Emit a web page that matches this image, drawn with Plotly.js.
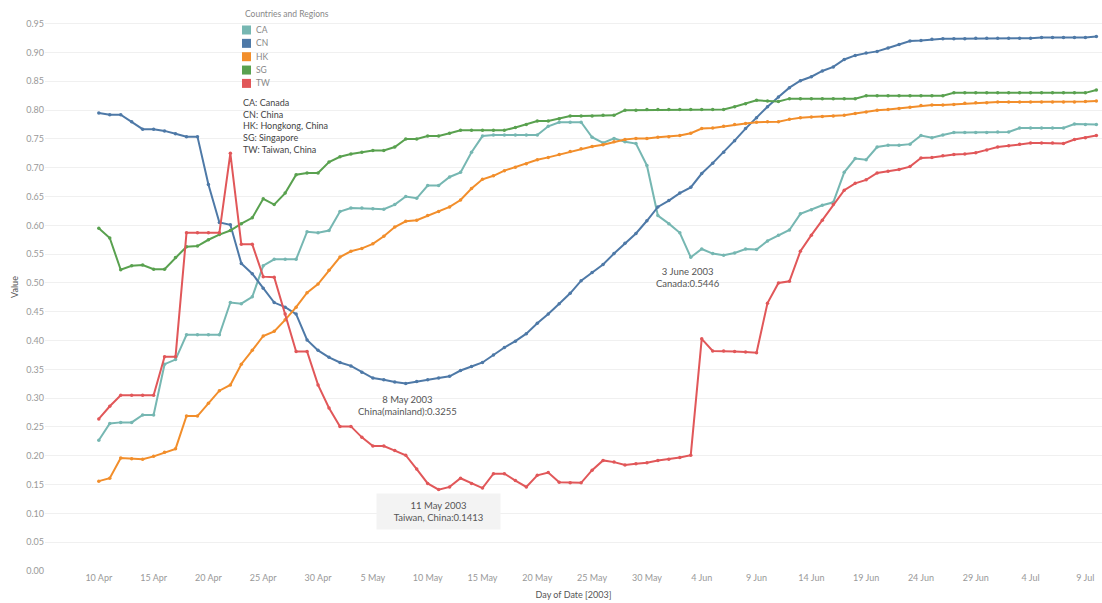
<!DOCTYPE html>
<html>
<head>
<meta charset="utf-8">
<script src="https://cdn.plot.ly/plotly-3.0.1.min.js"></script>
<style>
html, body { margin: 0; padding: 0; background: #ffffff; }
#chart { width: 1102px; height: 603px; }
</style>
</head>
<body>
<div id="chart"></div>
<script>
// ---------------- DATA ----------------
const startDate = '2003-04-10';
const seriesCodes = ['CA', 'CN', 'HK', 'SG', 'TW'];
const seriesNames = ['Canada', 'China', 'Hongkong, China', 'Singapore', 'Taiwan, China'];

const CA = [0.227,0.256,0.258,0.258,0.271,0.271,0.359,0.367,0.410,0.410,
            0.410,0.410,0.466,0.464,0.476,0.530,0.541,0.541,0.541,0.589,
            0.587,0.591,0.624,0.630,0.630,0.629,0.628,0.636,0.650,0.647,
            0.669,0.669,0.684,0.692,0.727,0.755,0.757,0.757,0.757,0.757,
            0.757,0.772,0.779,0.779,0.779,0.753,0.743,0.751,0.745,0.742,
            0.704,0.617,0.603,0.587,0.5446,0.559,0.551,0.548,0.552,0.559,
            0.558,0.573,0.583,0.592,0.620,0.627,0.635,0.640,0.692,0.716,
            0.714,0.736,0.739,0.739,0.741,0.756,0.752,0.757,0.761,0.761,
            0.761,0.761,0.762,0.762,0.769,0.769,0.769,0.769,0.769,0.776,
            0.775,0.775];

const CN = [0.795,0.792,0.792,0.780,0.767,0.767,0.764,0.759,0.754,0.754,
            0.671,0.605,0.601,0.534,0.516,0.491,0.466,0.458,0.446,0.401,
            0.383,0.371,0.362,0.356,0.345,0.335,0.332,0.328,0.3255,0.329,
            0.332,0.335,0.338,0.348,0.355,0.362,0.375,0.388,0.399,0.412,
            0.430,0.446,0.464,0.482,0.504,0.518,0.532,0.551,0.569,0.586,
            0.608,0.632,0.643,0.656,0.666,0.690,0.708,0.727,0.747,0.768,
            0.787,0.806,0.823,0.839,0.851,0.858,0.868,0.875,0.888,0.895,
            0.899,0.902,0.908,0.914,0.920,0.921,0.923,0.924,0.924,0.924,
            0.925,0.925,0.925,0.925,0.925,0.925,0.926,0.926,0.926,0.926,
            0.926,0.928];

const HK = [0.156,0.161,0.196,0.195,0.194,0.199,0.206,0.212,0.269,0.269,
            0.291,0.313,0.323,0.359,0.383,0.408,0.416,0.436,0.458,0.483,
            0.498,0.522,0.545,0.555,0.560,0.568,0.581,0.597,0.607,0.609,
            0.617,0.624,0.632,0.644,0.664,0.680,0.686,0.695,0.701,0.707,
            0.714,0.718,0.723,0.728,0.733,0.737,0.740,0.745,0.749,0.751,
            0.751,0.753,0.754,0.756,0.760,0.768,0.769,0.772,0.775,0.777,
            0.779,0.780,0.780,0.784,0.787,0.788,0.789,0.790,0.791,0.794,
            0.797,0.800,0.801,0.803,0.805,0.808,0.809,0.809,0.810,0.812,
            0.813,0.813,0.814,0.814,0.814,0.814,0.814,0.814,0.814,0.814,
            0.815,0.816];

const SG = [0.595,0.578,0.523,0.530,0.531,0.524,0.524,0.544,0.563,0.564,
            0.575,0.584,0.591,0.603,0.613,0.646,0.636,0.656,0.688,0.691,
            0.691,0.710,0.719,0.724,0.727,0.730,0.730,0.736,0.750,0.750,
            0.755,0.755,0.760,0.765,0.765,0.765,0.765,0.765,0.770,0.775,
            0.781,0.781,0.785,0.790,0.790,0.790,0.791,0.791,0.800,0.800,
            0.801,0.801,0.801,0.801,0.801,0.801,0.801,0.801,0.806,0.811,
            0.817,0.816,0.815,0.820,0.820,0.820,0.820,0.820,0.820,0.820,
            0.825,0.825,0.825,0.825,0.825,0.825,0.825,0.825,0.830,0.830,
            0.830,0.830,0.830,0.830,0.830,0.830,0.830,0.830,0.830,0.830,
            0.830,0.835];

const TW = [0.264,0.286,0.305,0.305,0.305,0.305,0.372,0.372,0.587,0.587,
            0.587,0.587,0.725,0.567,0.567,0.511,0.510,0.446,0.381,0.381,
            0.323,0.283,0.251,0.251,0.232,0.217,0.217,0.209,0.201,0.177,
            0.152,0.1413,0.146,0.161,0.152,0.144,0.169,0.169,0.157,0.146,
            0.166,0.171,0.154,0.153,0.153,0.175,0.192,0.189,0.184,0.186,
            0.188,0.192,0.194,0.197,0.201,0.403,0.382,0.382,0.381,0.380,
            0.379,0.465,0.500,0.503,0.555,0.583,0.609,0.636,0.661,0.673,
            0.679,0.691,0.694,0.697,0.702,0.717,0.718,0.721,0.723,0.724,
            0.726,0.731,0.736,0.738,0.741,0.743,0.743,0.743,0.742,0.749,
            0.752,0.756];

// highlighted points (labels as written on the chart)
const noteDates  = ['2003-05-08', '2003-06-03', '2003-05-11'];
const noteSeries = ['CN', 'CA', 'TW'];
const noteTexts  = ['8 May 2003<br>China(mainland):0.3255',
                    '3 June 2003<br>Canada:0.5446',
                    '11 May 2003<br>Taiwan, China:0.1413'];

// ---------------- BUILD ----------------
const seriesValues = {CA: CA, CN: CN, HK: HK, SG: SG, TW: TW};
const colors = {CA: '#76b7b2', CN: '#4e79a7', HK: '#f28e2b', SG: '#59a14f', TW: '#e15759'};

function dayString(i) {
  const d = new Date(startDate + 'T00:00:00Z');
  d.setUTCDate(d.getUTCDate() + i);
  return d.toISOString().slice(0, 10);
}
const dates = CA.map((_, i) => dayString(i));

const traces = seriesCodes.map(code => ({
  type: 'scatter',
  mode: 'lines+markers',
  name: code,
  x: dates,
  y: seriesValues[code],
  line: {color: colors[code], width: 2},
  marker: {color: colors[code], size: 3.5},
  showlegend: false,
  hovertemplate: '%{x|%-d %B %Y}<br>' + code + ':%{y}<extra></extra>'
}));

// layout geometry
const W = 1102, H = 603;
const M = {l: 45, r: 0, t: 3, b: 32};
const plotW = W - M.l - M.r, plotH = H - M.t - M.b;
const px = v => (v - M.l) / plotW;          // pixel x -> paper
const py = v => (H - M.b - v) / plotH;      // pixel y -> paper

const txtFont = 'Lato, "Noto Sans", sans-serif';

const shapes = [
  // white panel behind the legend block
  {type: 'rect', xref: 'paper', yref: 'paper', layer: 'between',
   x0: px(237), x1: px(334), y0: py(157), y1: py(4),
   fillcolor: '#ffffff', line: {width: 0}}
];
const annotations = [];

// legend title
annotations.push({xref: 'paper', yref: 'paper', x: px(243), y: py(14),
  xanchor: 'left', yanchor: 'middle', showarrow: false,
  text: 'Countries and Regions', font: {family: txtFont, size: 8.5, color: '#888888'}});

seriesCodes.forEach((code, k) => {
  const cy = 30 + k * 13.35;
  shapes.push({type: 'rect', xref: 'paper', yref: 'paper', layer: 'above',
    x0: px(242), x1: px(251), y0: py(cy + 4.5), y1: py(cy - 4.5),
    fillcolor: colors[code], line: {width: 0}});
  annotations.push({xref: 'paper', yref: 'paper', x: px(254), y: py(cy),
    xanchor: 'left', yanchor: 'middle', showarrow: false,
    text: code, font: {family: txtFont, size: 8.5, color: '#888888'}});
});

// code -> name key
annotations.push({xref: 'paper', yref: 'paper', x: px(241), y: py(95),
  xanchor: 'left', yanchor: 'top', align: 'left', showarrow: false,
  text: seriesCodes.map((c, k) => c + ': ' + seriesNames[k]).join('<br>'),
  font: {family: txtFont, size: 9, color: '#444444'}});

// highlighted point labels
noteDates.forEach((d, k) => {
  const idx = dates.indexOf(d);
  const val = seriesValues[noteSeries[k]][idx];
  const a = {xref: 'x', yref: 'y', x: d, y: val,
    xanchor: 'center', yanchor: 'top', align: 'center', showarrow: false,
    text: noteTexts[k], font: {family: txtFont, size: 9.5, color: '#555555'}};
  if (k === 0) { a.yshift = -9; a.xshift = 2; }
  if (k === 1) { a.yshift = -7; a.xshift = -3; }
  if (k === 2) { a.yshift = -3; a.width = 123; a.height = 35; a.bgcolor = '#f3f3f3';
                 a.borderpad = 0; a.valign = 'middle'; }
  annotations.push(a);
});

const layout = {
  width: W, height: H,
  margin: M,
  paper_bgcolor: '#ffffff',
  plot_bgcolor: '#ffffff',
  showlegend: false,
  font: {family: txtFont, size: 9, color: '#999999'},
  xaxis: {
    type: 'date',
    range: ['2003-04-05 02:13', '2003-07-10 12:20'],
    tick0: startDate,
    dtick: 5 * 86400000,
    tickformat: '%-d %b',
    showgrid: false, zeroline: false, showline: false, ticks: '',
    tickfont: {family: txtFont, size: 9, color: '#999999'},
    title: {text: 'Day of Date [2003]', font: {family: txtFont, size: 9, color: '#555555'}, standoff: 9}
  },
  yaxis: {
    range: [0, 0.986],
    dtick: 0.05,
    tickformat: '.2f',
    showgrid: true, gridcolor: '#f0f0f0', gridwidth: 1,
    zeroline: false, showline: false, ticks: '',
    tickfont: {family: txtFont, size: 9, color: '#999999'},
    title: {text: 'Value', font: {family: txtFont, size: 9, color: '#555555'}, standoff: 6}
  },
  shapes: shapes,
  annotations: annotations
};

Plotly.newPlot('chart', traces, layout, {displayModeBar: false, responsive: false});
</script>
</body>
</html>
